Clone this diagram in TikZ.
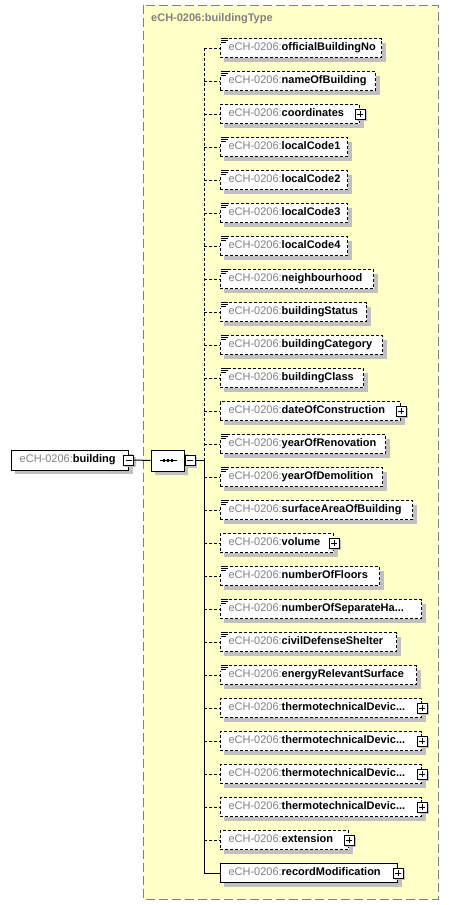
\documentclass[tikz,border=0pt]{standalone}
\usepackage{fontspec}
\setmainfont{Liberation Sans}
\usetikzlibrary{shapes.misc}
\definecolor{ctfill}{HTML}{FFFFC8}
\definecolor{ctborder}{HTML}{808080}
\definecolor{pfxgray}{HTML}{808080}
\definecolor{shadowgray}{HTML}{C0C0C0}
\newcommand{\pfx}{\textcolor{pfxgray}{eCH-0206:}}
\tikzset{
  elem/.style={draw=black, line width=1pt, fill=white, minimum height=19pt,
    inner ysep=0pt, inner xsep=8.5pt, anchor=west, text height=8pt, text depth=2.5pt,
    font=\fontsize{11}{12}\selectfont},
  optelem/.style={elem, dash pattern=on 3pt off 2pt},
  manelem/.style={elem},
  conn/.style={line width=1pt, black},
  optconn/.style={conn, dash pattern=on 3pt off 2pt},
  shadowfill/.style={fill=shadowgray, draw=none},
  iconbox/.style={draw=black, fill=white, line width=1pt, minimum size=10pt, inner sep=0pt, solid},
  plusicon/.style={iconbox, path picture={
    \draw[line width=1pt] ([xshift=-3pt]path picture bounding box.center) -- ([xshift=3pt]path picture bounding box.center)
      ([yshift=-3pt]path picture bounding box.center) -- ([yshift=3pt]path picture bounding box.center);}},
  minusicon/.style={iconbox, path picture={
    \draw[line width=1pt] ([xshift=-3pt]path picture bounding box.center) -- ([xshift=3pt]path picture bounding box.center);}},
  seqbox/.style={chamfered rectangle, chamfered rectangle xsep=5pt, chamfered rectangle ysep=5pt,
    draw=black, line width=1pt, fill=white, minimum width=33pt, minimum height=21pt, inner sep=0pt},
}
\newcommand{\elrow}[4]{%
  \pgfmathsetmacro{\yy}{48+33*#1}%
  \pgfmathsetmacro{\tw}{#3-219.5-17}%
  \fill[shadowgray] (224,\yy-5.5) rectangle (#3+4.5,\yy+13.5);
  \coordinate (s#1) at (204,\yy);
  \node[#4] (e#1) at (219.5,\yy) {\makebox[\tw pt][l]{\pfx\textbf{#2}}};
}
\newcommand{\txticon}[1]{%
  \fill[white] ([xshift=0.5pt,yshift=0.5pt]e#1.north west) rectangle ([xshift=8.5pt,yshift=-6pt]e#1.north west);
  \draw[line width=0.9pt] ([xshift=1pt,yshift=-0.5pt]e#1.north west) -- ++(7,0)
    ([xshift=1pt,yshift=-2.5pt]e#1.north west) -- ++(7,0)
    ([xshift=1pt,yshift=-4.5pt]e#1.north west) -- ++(5,0);}
\newcommand{\plusat}[1]{%
  \fill[shadowgray] ([xshift=-3.5pt,yshift=3.5pt]e#1.east) rectangle ([xshift=7pt,yshift=-7pt]e#1.east);
  \node[plusicon] (p#1) at (e#1.east) {};}
\begin{document}
\begin{tikzpicture}[x=1pt,y=-1pt]
\useasboundingbox (0,0) rectangle (449,905);
\fill[white] (0,0) rectangle (449,905);
% container
\draw[ctborder, fill=ctfill, line width=1pt, dash pattern=on 9pt off 4pt] (143,5) rectangle (438,899);
\node[anchor=west, inner sep=0pt, text=pfxgray, font=\fontsize{11}{12}\selectfont\bfseries] (title) at (151,19) {eCH-0206:buildingType};
% root element
\fill[shadowgray] (15,454) rectangle (132.5,474);
\node[manelem, minimum width=117pt, minimum height=20pt] (bld) at (10.7,460) {\makebox[100pt][l]{\pfx\textbf{building}}};
\fill[shadowgray] ([xshift=-3.5pt,yshift=3.5pt]bld.east) rectangle ([xshift=7pt,yshift=-7pt]bld.east);
\node[minusicon] (bldm) at (bld.east) {};
% sequence
\node[seqbox, shadowfill] (seqsh) at (171.5,464.5) {};
\node[seqbox] (seq) at (167.5,460.5) {};
\draw[line width=1pt] (160,460.5) -- (177,460.5);
\foreach \dx in {164,168,172} \fill (\dx-1.3,459.2) rectangle (\dx+1.3,461.8);
\fill[shadowgray] (186.5,457) rectangle (197,467.5);
\node[minusicon] (seqm) at (190,460.5) {};
\draw[conn] (bldm.east) -- (seq.west);
\coordinate (sj) at (204,460.5);
\draw[conn] (seqm.east) -- (sj);
% elements
\elrow{0}{officialBuildingNo}{381}{optelem}
\elrow{1}{nameOfBuilding}{375}{optelem}
\elrow{2}{coordinates}{359}{optelem}
\elrow{3}{localCode1}{347}{optelem}
\elrow{4}{localCode2}{347}{optelem}
\elrow{5}{localCode3}{347}{optelem}
\elrow{6}{localCode4}{347}{optelem}
\elrow{7}{neighbourhood}{373}{optelem}
\elrow{8}{buildingStatus}{366}{optelem}
\elrow{9}{buildingCategory}{382}{optelem}
\elrow{10}{buildingClass}{363}{optelem}
\elrow{11}{dateOfConstruction}{400}{optelem}
\elrow{12}{yearOfRenovation}{385}{optelem}
\elrow{13}{yearOfDemolition}{382}{optelem}
\elrow{14}{surfaceAreaOfBuilding}{412}{optelem}
\elrow{15}{volume}{333}{optelem}
\elrow{16}{numberOfFloors}{379}{optelem}
\elrow{17}{numberOfSeparateHa...}{421}{optelem}
\elrow{18}{civilDefenseShelter}{396}{optelem}
\elrow{19}{energyRelevantSurface}{416}{optelem}
\elrow{20}{thermotechnicalDevic...}{421}{optelem}
\elrow{21}{thermotechnicalDevic...}{421}{optelem}
\elrow{22}{thermotechnicalDevic...}{421}{optelem}
\elrow{23}{thermotechnicalDevic...}{421}{optelem}
\elrow{24}{extension}{348}{optelem}
\elrow{25}{recordModification}{397}{manelem}
% text-only icons
\foreach \k in {0,1,3,4,5,6,7,8,9,10,12,13,14,16,17,18,19} {\txticon{\k}}
% plus icons
\foreach \k in {2,11,15,20,21,22,23,24,25} {\plusat{\k}}
% spine and connectors
\draw[optconn] (s0) -- (sj);
\draw[conn] (sj) -- (s25) -- (e25.west);
\foreach \k in {0,...,24} {\draw[optconn] (s\k) -- (e\k.west);}
\end{tikzpicture}
\end{document}
